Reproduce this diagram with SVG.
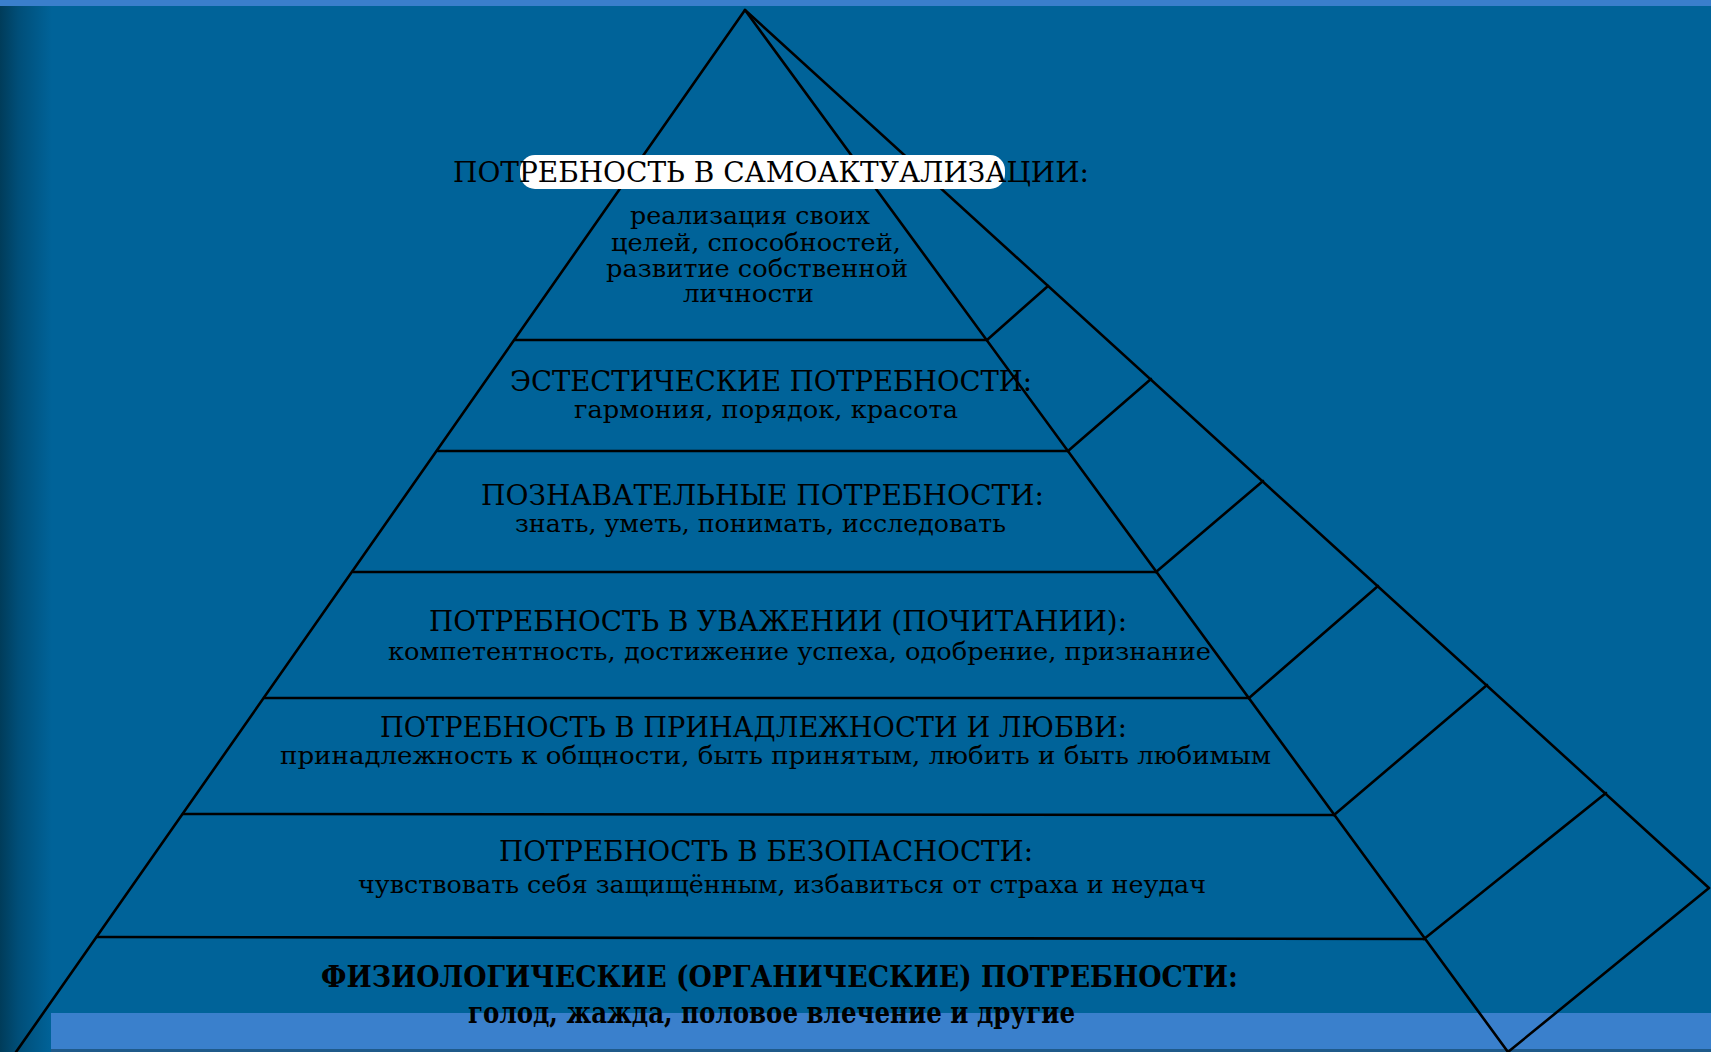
<svg xmlns="http://www.w3.org/2000/svg" width="1711" height="1052" viewBox="0 0 1711 1052">
<defs>
<linearGradient id="leftShade" x1="0" y1="0" x2="1" y2="0">
<stop offset="0" stop-color="#003c5a"/>
<stop offset="0.35" stop-color="#004e78"/>
<stop offset="1" stop-color="#006399"/>
</linearGradient>
<style>
.ln{stroke:#000;stroke-width:2.6;fill:none;stroke-linejoin:round;stroke-linecap:round}
.h{font-family:"DejaVu Serif Condensed","DejaVu Serif","Liberation Serif",serif;font-size:27px;fill:#000}
.s{font-family:"DejaVu Serif Condensed","DejaVu Serif","Liberation Serif",serif;font-size:24px;fill:#000}
.hb{font-family:"DejaVu Serif Condensed","DejaVu Serif","Liberation Serif",serif;font-size:29px;font-weight:bold;fill:#000}
.sb{font-family:"DejaVu Serif Condensed","DejaVu Serif","Liberation Serif",serif;font-size:29px;font-weight:bold;fill:#000}
</style>
</defs>
<g id="background">
<rect x="0" y="0" width="1711" height="1052" fill="#006399"/>
<rect x="0" y="0" width="52" height="1052" fill="url(#leftShade)"/>
<rect x="0" y="0" width="1711" height="6" fill="#3a7fcc"/>
<rect x="51" y="1013" width="1660" height="37" fill="#3a80cc"/>
<rect x="51" y="1049" width="1660" height="3" fill="#1f5a8a"/>
</g>
<g id="connectors">
<polyline class="ln" points="16,1052 745,10 1508,1052"/>
<polyline class="ln" points="745,10 1709,888 1508,1052"/>
<line class="ln" x1="515" y1="340" x2="987" y2="340"/>
<line class="ln" x1="438" y1="451" x2="1068" y2="451"/>
<line class="ln" x1="353" y1="572" x2="1156" y2="572"/>
<line class="ln" x1="264" y1="698" x2="1249" y2="698"/>
<line class="ln" x1="183" y1="814" x2="1334" y2="815"/>
<line class="ln" x1="97" y1="937" x2="1424" y2="939"/>
<line class="ln" x1="987" y1="340" x2="1048" y2="286"/>
<line class="ln" x1="1068" y1="451" x2="1151" y2="379"/>
<line class="ln" x1="1156" y1="572" x2="1263" y2="481"/>
<line class="ln" x1="1249" y1="698" x2="1378" y2="586"/>
<line class="ln" x1="1334" y1="815" x2="1487" y2="685"/>
<line class="ln" x1="1424" y1="939" x2="1606" y2="793"/>
</g>
<g id="level-self-actualization">
<rect x="520" y="155" width="485" height="34" rx="15" fill="#ffffff"/>
<text class="h" x="453" y="182" textLength="636" lengthAdjust="spacingAndGlyphs">ПОТРЕБНОСТЬ В САМОАКТУАЛИЗАЦИИ:</text>
<text class="s" x="630" y="224" textLength="240" lengthAdjust="spacingAndGlyphs">реализация своих</text>
<text class="s" x="611" y="251" textLength="290" lengthAdjust="spacingAndGlyphs">целей, способностей,</text>
<text class="s" x="606" y="277" textLength="302" lengthAdjust="spacingAndGlyphs">развитие собственной</text>
<text class="s" x="683" y="302" textLength="131" lengthAdjust="spacingAndGlyphs">личности</text>
</g>
<g id="level-aesthetic">
<text class="h" x="510" y="391" textLength="522" lengthAdjust="spacingAndGlyphs">ЭСТЕСТИЧЕСКИЕ ПОТРЕБНОСТИ:</text>
<text class="s" x="574" y="418" textLength="384" lengthAdjust="spacingAndGlyphs">гармония, порядок, красота</text>
</g>
<g id="level-cognitive">
<text class="h" x="481" y="505" textLength="563" lengthAdjust="spacingAndGlyphs">ПОЗНАВАТЕЛЬНЫЕ ПОТРЕБНОСТИ:</text>
<text class="s" x="515" y="532" textLength="491" lengthAdjust="spacingAndGlyphs">знать, уметь, понимать, исследовать</text>
</g>
<g id="level-esteem">
<text class="h" x="429" y="631" textLength="698" lengthAdjust="spacingAndGlyphs">ПОТРЕБНОСТЬ В УВАЖЕНИИ (ПОЧИТАНИИ):</text>
<text class="s" x="388" y="660" textLength="823" lengthAdjust="spacingAndGlyphs">компетентность, достижение успеха, одобрение, признание</text>
</g>
<g id="level-belonging">
<text class="h" x="380" y="737" textLength="747" lengthAdjust="spacingAndGlyphs">ПОТРЕБНОСТЬ В ПРИНАДЛЕЖНОСТИ И ЛЮБВИ:</text>
<text class="s" x="280" y="764" textLength="991" lengthAdjust="spacingAndGlyphs">принадлежность к общности, быть принятым, любить и быть любимым</text>
</g>
<g id="level-safety">
<text class="h" x="499" y="861" textLength="534" lengthAdjust="spacingAndGlyphs">ПОТРЕБНОСТЬ В БЕЗОПАСНОСТИ:</text>
<text class="s" x="358" y="893" textLength="848" lengthAdjust="spacingAndGlyphs">чувствовать себя защищённым, избавиться от страха и неудач</text>
</g>
<g id="level-physiological">
<text class="hb" x="321" y="987" textLength="917" lengthAdjust="spacingAndGlyphs">ФИЗИОЛОГИЧЕСКИЕ (ОРГАНИЧЕСКИЕ) ПОТРЕБНОСТИ:</text>
<text class="sb" x="468" y="1023" textLength="607" lengthAdjust="spacingAndGlyphs">голод, жажда, половое влечение и другие</text>
</g>
</svg>
